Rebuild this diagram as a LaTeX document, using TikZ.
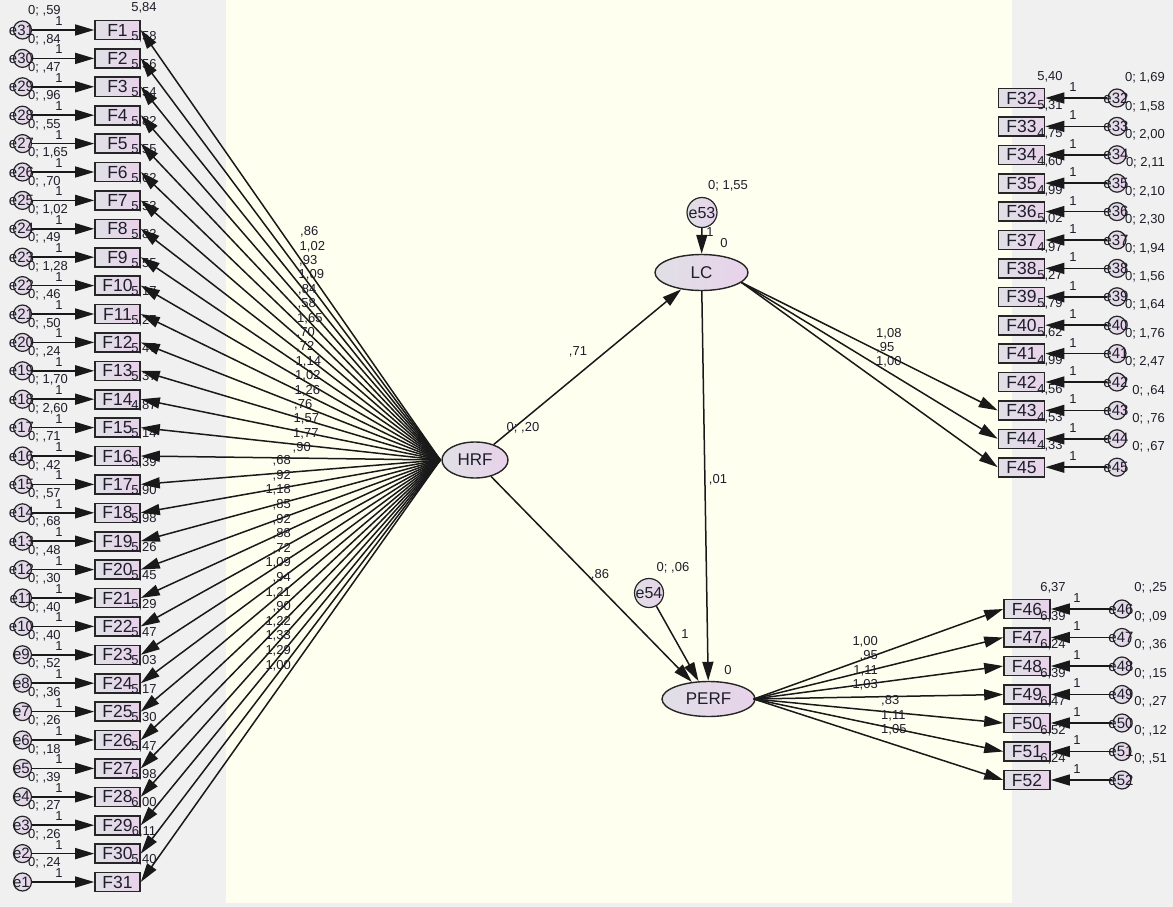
\documentclass[tikz,border=0pt]{standalone}
\usepackage{fontspec}
\setmainfont{Liberation Sans}
\usetikzlibrary{arrows.meta,shapes.geometric}
\definecolor{bggray}{HTML}{F0F0F0}
\definecolor{cream}{HTML}{FFFFF0}
\definecolor{boxL}{HTML}{E0E0E6}
\definecolor{boxR}{HTML}{E8D2EA}
\definecolor{txt}{HTML}{1E1E2A}
\newcommand\fsz[1]{\fontsize{#1}{#1}\selectfont}
\tikzset{
 obs/.style={rectangle, draw=black!85, line width=1.6pt, left color=boxL, right color=boxR, minimum width=45pt, minimum height=19pt, inner sep=0pt, font=\fsz{17.5}, text=txt},
 errc/.style={circle, draw=black!85, line width=1.2pt, left color=boxL, right color=boxR, minimum size=18pt, inner sep=0pt},
 etxt/.style={font=\fsz{15}, text=txt, inner sep=0pt},
 lat/.style={ellipse, draw=black!85, line width=1.4pt, left color=boxL, right color=boxR, inner sep=0pt, font=\fsz{17}, text=txt},
 num/.style={font=\fsz{13}, text=txt, inner sep=0pt},
 arr/.style={draw=black!90, line width=1.5pt, -{Triangle[length=19pt,width=11pt]}},
}
\begin{document}
\begin{tikzpicture}[x=1pt,y=-1pt]
\useasboundingbox (0,0) rectangle (1173,907);
\fill[bggray] (0,0) rectangle (1173,907);
\fill[cream] (226,0) rectangle (1012,903);

% latent variables
\node[lat, minimum width=66pt, minimum height=36pt] (HRF) at (475,460) {HRF};
\node[lat, minimum width=93pt, minimum height=36pt] (LC) at (701.5,272.5) {LC};
\node[lat, minimum width=93pt, minimum height=35pt] (PERF) at (708.5,699) {PERF};
\node[errc, minimum size=30pt] (e53) at (702,212.5) {};
\node[etxt, font=\fsz{16}] (te53) at (702,212.5) {e53};
\node[errc, minimum size=29pt] (e54) at (649,593) {};
\node[etxt, font=\fsz{16}] (te54) at (649,593) {e54};
\coordinate (hl) at ([xshift=-1pt]HRF.west);
\coordinate (lcr) at (LC.-14);
\coordinate (pr) at ([xshift=-2pt]PERF.east);

% left column
\foreach \i/\ev/\ic [evaluate=\i as \y using 30+(\i-1)*28.4, evaluate=\i as \e using int(32-\i)] in {
 1/{0; ,59}/{5,84}, 2/{0; ,84}/{5,58}, 3/{0; ,47}/{5,56}, 4/{0; ,96}/{5,54},
 5/{0; ,55}/{5,82}, 6/{0; 1,65}/{5,55}, 7/{0; ,70}/{5,62}, 8/{0; 1,02}/{5,53},
 9/{0; ,49}/{5,83}, 10/{0; 1,28}/{5,55}, 11/{0; ,46}/{5,17}, 12/{0; ,50}/{5,27},
 13/{0; ,24}/{5,47}, 14/{0; 1,70}/{5,37}, 15/{0; 2,60}/{4,87}, 16/{0; ,71}/{5,14},
 17/{0; ,42}/{5,39}, 18/{0; ,57}/{5,90}, 19/{0; ,68}/{5,98}, 20/{0; ,48}/{5,26},
 21/{0; ,30}/{5,45}, 22/{0; ,40}/{5,29}, 23/{0; ,40}/{5,47}, 24/{0; ,52}/{5,03},
 25/{0; ,36}/{5,17}, 26/{0; ,26}/{5,30}, 27/{0; ,18}/{5,47}, 28/{0; ,39}/{5,98},
 29/{0; ,27}/{6,00}, 30/{0; ,26}/{6,11}, 31/{0; ,24}/{5,40}}
{
 \node[obs] (F\i) at (117.5,\y) {F\i};
 \node[errc] (e\e) at (22.5,\y) {};
 \node[etxt] (te\e) at (21.5,\y) {e\e};
 \draw[arr] (e\e) -- (F\i);
 \node[num, anchor=west] (v\e) at (28,\y-19) {\ev};
 \node[num] (w\e) at (59,\y-9) {1};
 \node[num] (i\i) at (144,\y-22) {\ic};
}

% right upper column
\foreach \i/\ev/\ic [evaluate=\i as \y using 98+(\i-32)*28.4] in {
 32/{0; 1,69}/{5,40}, 33/{0; 1,58}/{5,31}, 34/{0; 2,00}/{4,75}, 35/{0; 2,11}/{4,60},
 36/{0; 2,10}/{4,99}, 37/{0; 2,30}/{5,02}, 38/{0; 1,94}/{4,97}, 39/{0; 1,56}/{5,27},
 40/{0; 1,64}/{5,79}, 41/{0; 1,76}/{5,62}, 42/{0; 2,47}/{4,99}, 43/{0; ,64}/{4,56},
 44/{0; ,76}/{4,53}, 45/{0; ,67}/{4,33}}
{
 \node[obs, minimum width=46pt] (F\i) at (1021.5,\y) {F\i};
 \node[errc] (e\i) at (1117,\y) {};
 \node[etxt] (te\i) at (1116,\y) {e\i};
 \draw[arr] (e\i) -- (F\i);
 \node[num, anchor=east] (v\i) at (1165,\y-20) {\ev};
 \node[num] (w\i) at (1073,\y-11) {1};
 \node[num] (i\i) at (1050,\y-21) {\ic};
}

% right lower column
\foreach \i/\ev/\ic [evaluate=\i as \y using 609+(\i-46)*28.5] in {
 46/{0; ,25}/{6,37}, 47/{0; ,09}/{6,39}, 48/{0; ,36}/{6,24}, 49/{0; ,15}/{6,39},
 50/{0; ,27}/{6,47}, 51/{0; ,12}/{6,52}, 52/{0; ,51}/{6,24}}
{
 \node[obs, minimum width=46pt] (F\i) at (1027,\y) {F\i};
 \node[errc] (e\i) at (1122,\y) {};
 \node[etxt] (te\i) at (1121,\y) {e\i};
 \draw[arr] (e\i) -- (F\i);
 \node[num, anchor=east] (v\i) at (1167,\y-21) {\ev};
 \node[num] (w\i) at (1077,\y-11) {1};
 \node[num] (i\i) at (1053,\y-21) {\ic};
}

% HRF loadings
\foreach \i/\l in {1/{,86},2/{1,02},3/{,93},4/{1,09},5/{,84},6/{,58},7/{1,65},8/{,70},
 9/{,72},10/{1,14},11/{1,02},12/{1,26},13/{,76},14/{1,57},15/{1,77},16/{,90}}
{
 \draw[arr] (hl) -- (F\i.east);
 \node[num, anchor=west] (l\i) at ({300-0.5*(\i-1)},{232+14.4*(\i-1)}) {\l};
}
\foreach \i/\l in {17/{,68},18/{,92},19/{1,18},20/{,85},21/{,92},22/{,88},23/{,72},24/{1,09},
 25/{,94},26/{1,21},27/{,90},28/{1,22},29/{1,33},30/{1,29},31/{1,00}}
{
 \draw[arr] (hl) -- (F\i.east);
 \node[num, anchor=east] (l\i) at (291,{461+14.6*(\i-17)}) {\l};
}

% LC loadings
\foreach \i/\l/\k in {43/{1,08}/0,44/{,95}/1,45/{1,00}/2}
{
 \draw[arr] (lcr) -- (F\i.west);
 \node[num, anchor=west] (l\i) at (876,{334+14*\k}) {\l};
}
% PERF loadings
\foreach \i/\l/\yy in {46/{1,00}/642,47/{,95}/656,48/{1,11}/671,49/{1,03}/685}
{
 \draw[arr] (pr) -- (F\i.west);
 \node[num, anchor=east] (l\i) at (878,\yy) {\l};
}
\foreach \i/\l/\yy in {50/{,83}/701,51/{1,11}/716,52/{1,05}/730}
{
 \draw[arr] (pr) -- (F\i.west);
 \node[num, anchor=west] (l\i) at (881,\yy) {\l};
}

% structural paths
\draw[arr] (HRF) -- (LC);
\draw[arr] (HRF) -- (PERF);
\draw[arr] (LC) -- (PERF);
\draw[arr] (e53) -- (LC);
\draw[arr] (e54) -- (PERF);

\node[num] (pHL) at (578,352) {,71};
\node[num] (pHP) at (600,575) {,86};
\node[num] (pLP) at (718,480) {,01};
\node[num] (vHRF) at (523,428) {0; ,20};
\node[num] (v53) at (728,186) {0; 1,55};
\node[num] (w53) at (710,232) {1};
\node[num] (m53) at (724,243) {0};
\node[num] (v54) at (673,568) {0; ,06};
\node[num] (w54) at (685,634) {1};
\node[num] (m54) at (728,670) {0};
\end{tikzpicture}
\end{document}
